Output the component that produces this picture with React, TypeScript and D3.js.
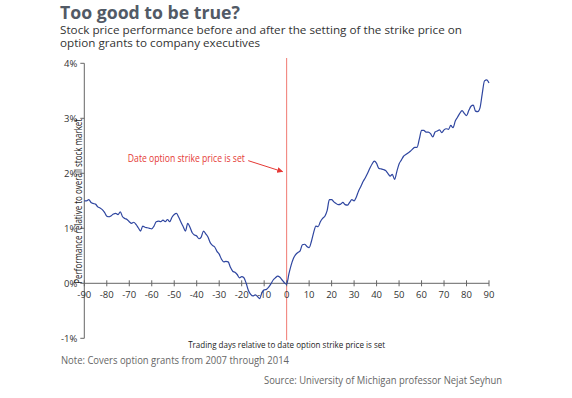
import React, { useRef, useEffect } from 'react';
import * as d3 from 'd3';

// trading days relative to the strike-price date
const days: number[] = d3.range(-90, 91);

// performance relative to overall stock market (%), one value per day
const performance: number[] = [
  1.50, 1.50, 1.52, 1.47, 1.45, 1.44, 1.39, 1.37, 1.34, 1.29,
  1.22, 1.21, 1.23, 1.26, 1.27, 1.25, 1.30, 1.21, 1.18, 1.16,
  1.12, 1.09, 1.11, 1.07, 1.01, 0.95, 1.04, 1.02, 1.01, 1.00,
  0.99, 1.04, 1.12, 1.13, 1.12, 1.15, 1.12, 1.16, 1.12, 1.20,
  1.25, 1.27, 1.20, 1.11, 1.03, 0.95, 1.09, 1.02, 0.92, 0.88,
  0.86, 0.81, 0.84, 0.95, 0.90, 0.84, 0.74, 0.69, 0.66, 0.58,
  0.53, 0.44, 0.39, 0.40, 0.39, 0.29, 0.22, 0.20, 0.16, 0.10,
  0.12, 0.10, 0.00, -0.13, -0.20, -0.23, -0.21, -0.24, -0.28, -0.17,
  -0.12, -0.11, -0.07, -0.01, 0.06, 0.10, 0.13, 0.11, 0.06, 0.01,
  -0.02, 0.17, 0.33, 0.45, 0.52, 0.56, 0.59, 0.70, 0.71, 0.67,
  0.65, 0.76, 0.92, 1.04, 1.03, 1.12, 1.18, 1.22, 1.32, 1.52,
  1.52, 1.48, 1.45, 1.43, 1.44, 1.47, 1.43, 1.42, 1.47, 1.52,
  1.50, 1.57, 1.68, 1.76, 1.85, 1.92, 2.00, 2.09, 2.17, 2.22,
  2.18, 2.09, 2.08, 2.07, 2.05, 2.00, 1.95, 1.98, 1.89, 2.03,
  2.17, 2.24, 2.31, 2.34, 2.37, 2.40, 2.44, 2.47, 2.47, 2.62,
  2.78, 2.78, 2.75, 2.75, 2.72, 2.66, 2.75, 2.77, 2.79, 2.74,
  2.79, 2.81, 2.80, 2.87, 2.83, 2.95, 3.02, 3.09, 3.14, 3.09,
  3.05, 3.14, 3.22, 3.24, 3.13, 3.12, 3.19, 3.45, 3.68, 3.70,
  3.64,
];

const xTicks: number[] = [-90, -80, -70, -60, -50, -40, -30, -20, -10, 0, 10, 20, 30, 40, 50, 60, 70, 80, 90];
const yTicks: number[] = [-1, 0, 1, 2, 3, 4];

const FONT = "'Open Sans', sans-serif";

const App = () => {
  const svgRef = useRef<SVGSVGElement | null>(null);

  useEffect(() => {
    const svg = d3.select(svgRef.current);
    svg.selectAll('*').remove();

    const x = d3.scaleLinear().domain([-90, 90]).range([84.3, 489]);
    const y = d3.scaleLinear().domain([-1, 4]).range([338.3, 63.3]);

    svg.append('rect').attr('width', 572).attr('height', 398).attr('fill', '#fff');

    // titles
    svg.append('text')
      .attr('x', 60).attr('y', 18.5)
      .attr('font-family', FONT).attr('font-weight', 700).attr('font-size', 18)
      .attr('fill', '#525a66')
      .attr('textLength', 180).attr('lengthAdjust', 'spacingAndGlyphs')
      .text('Too good to be true?');
    svg.append('text')
      .attr('x', 60).attr('y', 34)
      .attr('font-family', FONT).attr('font-size', 10.5).attr('fill', '#333')
      .attr('textLength', 402).attr('lengthAdjust', 'spacingAndGlyphs')
      .text('Stock price performance before and after the setting of the strike price on');
    svg.append('text')
      .attr('x', 60).attr('y', 47)
      .attr('font-family', FONT).attr('font-size', 10.5).attr('fill', '#333')
      .attr('textLength', 200).attr('lengthAdjust', 'spacingAndGlyphs')
      .text('option grants to company executives');

    // red marker line at day 0
    svg.append('line')
      .attr('x1', x(0)).attr('x2', x(0))
      .attr('y1', 58).attr('y2', y(-1) + 2)
      .attr('stroke', '#f07a72').attr('stroke-width', 1);

    // y axis
    const yAxis = svg.append('g');
    yAxis.append('line')
      .attr('x1', x(-90)).attr('x2', x(-90))
      .attr('y1', y(4)).attr('y2', y(-1))
      .attr('stroke', '#666');
    yAxis.selectAll('.yt').data(yTicks).join('line')
      .attr('x1', x(-90) - 4).attr('x2', x(-90))
      .attr('y1', d => y(d)).attr('y2', d => y(d))
      .attr('stroke', '#666');
    yAxis.selectAll('text').data(yTicks).join('text')
      .attr('x', x(-90) - 7).attr('y', d => y(d) + 3.5)
      .attr('text-anchor', 'end')
      .attr('font-family', FONT).attr('font-size', 9.5).attr('fill', '#333')
      .text(d => `${d}%`);

    // x axis
    const xAxis = svg.append('g');
    xAxis.append('line')
      .attr('x1', x(-90)).attr('x2', x(90))
      .attr('y1', y(0)).attr('y2', y(0))
      .attr('stroke', '#666');
    xAxis.selectAll('.xt').data(xTicks).join('line')
      .attr('x1', d => x(d)).attr('x2', d => x(d))
      .attr('y1', y(0) - 3).attr('y2', y(0) + 3)
      .attr('stroke', '#666');
    xAxis.selectAll('text').data(xTicks).join('text')
      .attr('x', d => x(d)).attr('y', y(0) + 15)
      .attr('text-anchor', 'middle')
      .attr('font-family', FONT).attr('font-size', 9.5).attr('fill', '#333')
      .text(d => `${d}`);

    // axis titles
    svg.append('text')
      .attr('transform', `translate(82,${(y(0) + y(3)) / 2 + 0.5}) rotate(-90)`)
      .attr('text-anchor', 'middle')
      .attr('font-family', FONT).attr('font-size', 10).attr('fill', '#222')
      .attr('textLength', 165).attr('lengthAdjust', 'spacingAndGlyphs')
      .text('Performance relative to overall stock market');
    svg.append('text')
      .attr('x', x(0)).attr('y', 348)
      .attr('text-anchor', 'middle')
      .attr('font-family', FONT).attr('font-size', 9.5).attr('fill', '#222')
      .attr('textLength', 197).attr('lengthAdjust', 'spacingAndGlyphs')
      .text('Trading days relative to date option strike price is set');

    // performance line
    const line = d3.line<number>()
      .x((_, i) => x(days[i]))
      .y(d => y(d))
      .curve(d3.curveMonotoneX);
    svg.append('path')
      .datum(performance)
      .attr('fill', 'none')
      .attr('stroke', '#2f46a0')
      .attr('stroke-width', 1.2)
      .attr('d', line);

    // annotation
    svg.append('defs').append('marker')
      .attr('id', 'arrowhead')
      .attr('viewBox', '0 0 10 10')
      .attr('refX', 9).attr('refY', 5)
      .attr('markerWidth', 6).attr('markerHeight', 6)
      .attr('orient', 'auto')
      .append('path')
      .attr('d', 'M0,0 L10,5 L0,10 z')
      .attr('fill', '#e53935');
    svg.append('text')
      .attr('x', x(-18.6)).attr('y', y(2.2))
      .attr('text-anchor', 'end')
      .attr('font-family', FONT).attr('font-size', 10).attr('fill', '#e53935')
      .attr('textLength', 117).attr('lengthAdjust', 'spacingAndGlyphs')
      .text('Date option strike price is set');
    svg.append('line')
      .attr('x1', x(-17.1)).attr('y1', y(2.23))
      .attr('x2', x(-1.8)).attr('y2', y(2.03))
      .attr('stroke', '#e53935').attr('stroke-width', 1)
      .attr('marker-end', 'url(#arrowhead)');

    // footnotes
    svg.append('text')
      .attr('x', 61).attr('y', 364)
      .attr('font-family', FONT).attr('font-size', 11).attr('fill', '#666')
      .attr('textLength', 228).attr('lengthAdjust', 'spacingAndGlyphs')
      .text('Note: Covers option grants from 2007 through 2014');
    svg.append('text')
      .attr('x', 502).attr('y', 384)
      .attr('text-anchor', 'end')
      .attr('font-family', FONT).attr('font-size', 11).attr('fill', '#666')
      .attr('textLength', 238).attr('lengthAdjust', 'spacingAndGlyphs')
      .text('Source: University of Michigan professor Nejat Seyhun');
  }, []);

  return (
    <svg ref={svgRef} width="572" height="398"
      style={{ position: 'absolute', left: 0, top: 0, display: 'block' }} />
  );
};

export default App;
